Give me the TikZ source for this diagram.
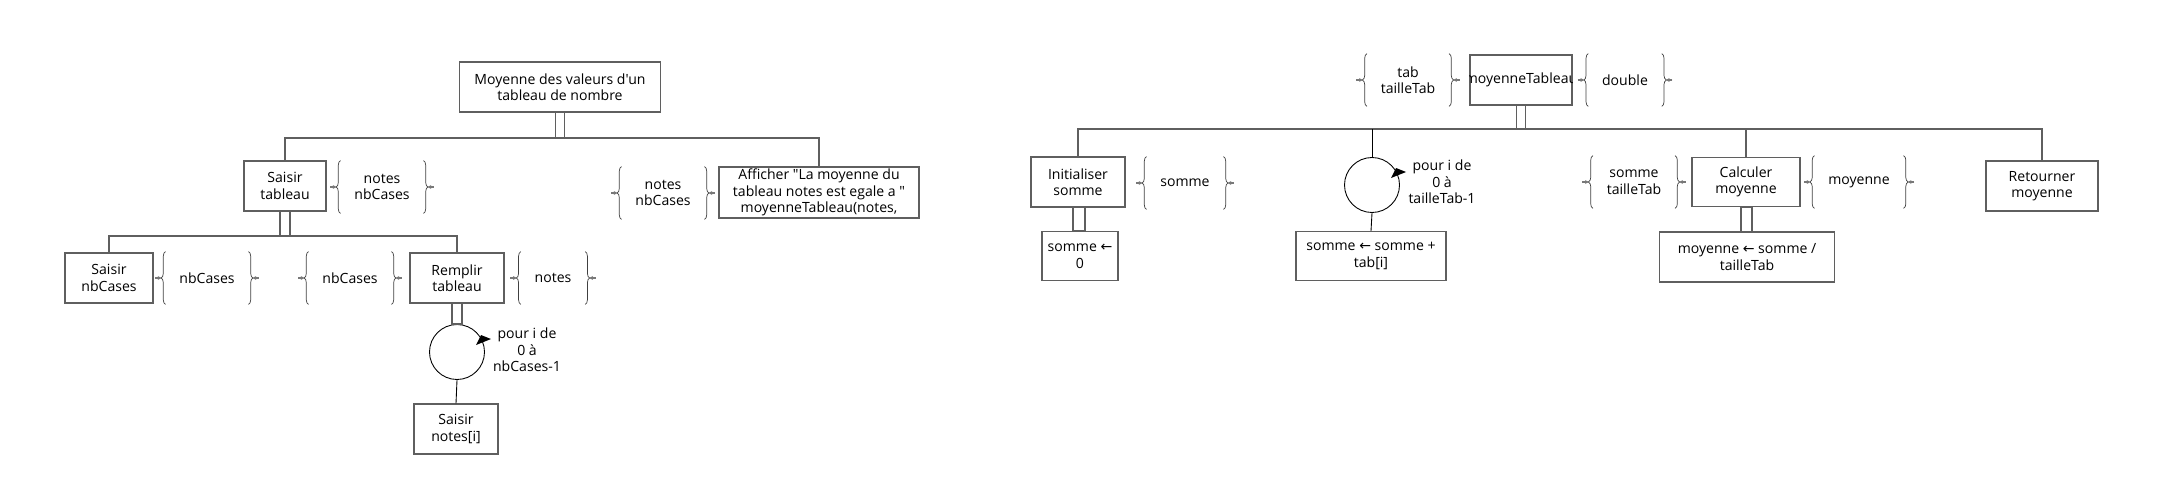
\documentclass[tikz,border=0pt]{standalone}
\usepackage{fontspec}
\setmainfont{Open Sans}[Ligatures=TeXOff]
\newfontfamily\flfont{DejaVu Sans}
\newcommand{\fl}{{\flfont ←}}
\usetikzlibrary{decorations.pathreplacing,arrows.meta}
\definecolor{edge}{RGB}{95,95,95}
\definecolor{stubgray}{RGB}{120,120,120}
\begin{document}
\begin{tikzpicture}[x=0.02cm,y=-0.02cm,
    font=\fontsize{8}{9.4}\selectfont,
    bloc/.style={draw=edge,line width=0.65pt,align=center,inner sep=0pt,minimum height=1cm},
    donnee/.style={align=center,inner sep=0pt,inner xsep=0.27cm,minimum height=1.04cm},
    accolade/.style={decorate,decoration={brace,amplitude=0.09cm},draw=black!75,line width=0.4pt},
    fleche/.style={-{Stealth[length=2.2pt,width=2.2pt]},draw=stubgray,fill=stubgray,line width=0.9pt},
    boucle/.style={circle,draw=black,line width=0.5pt,minimum size=1.1cm,inner sep=0pt},
    trait/.style={draw=edge,line width=0.65pt}]
\useasboundingbox (0,0) rectangle (2166,500);

% arbre de gauche
\node[bloc,minimum width=4.02cm] (racine) at (560,87) {Moyenne des valeurs d'un\\tableau de nombre};
\node[bloc,minimum width=1.64cm] (saisirTab) at (285,186) {Saisir\\tableau};
\node[donnee] (dSaisirTab) at (382,187) {notes\\nbCases};
\node[bloc,minimum width=1.76cm] (saisirNb) at (109,278) {Saisir\\nbCases};
\node[donnee] (dSaisirNb) at (207,278) {nbCases};
\node[donnee] (dRemplirE) at (350,278) {nbCases};
\node[bloc,minimum width=1.88cm] (remplir) at (457,278) {Remplir\\tableau};
\node[donnee] (dRemplirS) at (553,278) {notes};
\node[boucle] (boucleG) at (457,352) {};
\node[align=center] (pourG) at (527,350) {pour i de\\0 à\\nbCases-1};
\node[bloc,minimum width=1.68cm] (saisirNote) at (456,429) {Saisir\\notes[i]};
\node[donnee] (dAfficher) at (663,193) {notes\\nbCases};
\node[bloc,minimum width=4cm,minimum height=1.02cm] (afficher) at (819,192.5) {Afficher "La moyenne du\\tableau notes est egale a "\\moyenneTableau(notes,};

\coordinate (busG) at (560,138);
\coordinate (busT) at (285,236);
\draw[trait] (saisirTab.north) |- (busG) -| (afficher.north);
\draw[trait] ([xshift=-0.09cm]racine.south) rectangle ([xshift=0.09cm]busG);
\draw[trait] (saisirNb.north) |- (busT) -| (remplir.north);
\draw[trait] ([xshift=-0.1cm]saisirTab.south) rectangle ([xshift=0.1cm]busT);
\draw[trait] ([xshift=-0.1cm]remplir.south) rectangle ([xshift=0.1cm]boucleG.north);
\draw[black,line width=0.5pt] (boucleG.south) -- (saisirNote.north);
\fill ([shift={(19,-7)}]boucleG.center) -- ([shift={(24,-17)}]boucleG.center) -- ([shift={(34,-13)}]boucleG.center) -- cycle;

% arbre de droite
\node[bloc,minimum width=2.04cm] (moyTab) at (1521,80) {};
\begin{scope}
\clip (moyTab.south west) rectangle (moyTab.north east);
\node (moyTabTxt) at (moyTab) {moyenneTableau};
\end{scope}
\node[donnee] (dEntree) at (1408,80) {tab\\tailleTab};
\node[donnee] (dSortie) at (1625,80) {double};
\node[bloc,minimum width=1.88cm] (init) at (1078,182) {Initialiser\\somme};
\node[donnee] (dInit) at (1185,183) {somme};
\node[bloc,minimum width=1.52cm,minimum height=0.98cm] (sommeZero) at (1080,256) {somme \fl\\0};
\node[boucle] (boucleD) at (1372,185) {};
\node[align=center] (pourD) at (1442,182) {pour i de\\0 à\\tailleTab-1};
\node[bloc,minimum width=3cm,minimum height=0.98cm] (sommeAdd) at (1371,256) {somme \fl{} somme +\\tab[i]};
\node[donnee] (dCalcE) at (1634,182) {somme\\tailleTab};
\node[bloc,minimum width=2.16cm,minimum height=0.98cm] (calc) at (1746,182) {Calculer\\moyenne};
\node[donnee] (dCalcS) at (1859,182) {moyenne};
\node[bloc,minimum width=3.5cm] (moyCalc) at (1747,257) {moyenne \fl{} somme /\\tailleTab};
\node[bloc,minimum width=2.24cm] (retour) at (2042,186) {Retourner\\moyenne};

\coordinate (busD) at (1521,129);
\draw[trait] (init.north) |- (busD) -| (retour.north);
\draw[trait] ([xshift=-0.09cm]moyTab.south) rectangle ([xshift=0.09cm]busD);
\draw[black,line width=0.5pt] (boucleD.north) -- (boucleD.north |- busD);
\draw[trait] (calc.north) -- (calc.north |- busD);
\draw[trait] ([xshift=-0.1cm]init.south) rectangle ([xshift=0.1cm]sommeZero.north);
\draw[black,line width=0.5pt] (boucleD.south) -- (sommeAdd.north);
\draw[trait] ([xshift=-0.1cm]calc.south) rectangle ([xshift=0.1cm]moyCalc.north);
\fill ([shift={(19,-7)}]boucleD.center) -- ([shift={(24,-17)}]boucleD.center) -- ([shift={(34,-13)}]boucleD.center) -- cycle;

% accolades des donnees
\foreach \d in {dSaisirTab,dSaisirNb,dRemplirE,dRemplirS,dAfficher,dEntree,dSortie,dInit,dCalcE,dCalcS}{
  \draw[accolade] (\d.south west) -- (\d.north west);
  \draw[accolade] (\d.north east) -- (\d.south east);
  \draw[fleche] ([xshift=-0.21cm]\d.west) -- ([xshift=-0.08cm]\d.west);
  \draw[fleche] ([xshift=0.21cm]\d.east) -- ([xshift=0.08cm]\d.east);
}
\end{tikzpicture}
\end{document}
